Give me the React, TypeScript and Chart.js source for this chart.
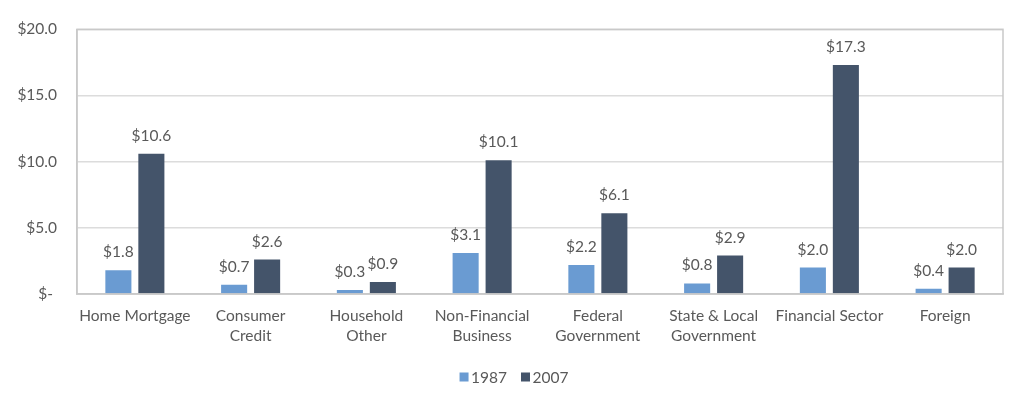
import React, { useEffect, useRef } from "react";
import { Chart, registerables } from "chart.js";

Chart.register(...registerables);

const categories: (string | string[])[] = [
  "Home Mortgage",
  ["Consumer", "Credit"],
  ["Household", "Other"],
  ["Non-Financial", "Business"],
  ["Federal", "Government"],
  ["State & Local", "Government"],
  "Financial Sector",
  "Foreign",
];
const values1987 = [1.8, 0.7, 0.3, 3.1, 2.2, 0.8, 2.0, 0.4];
const values2007 = [10.6, 2.6, 0.9, 10.1, 6.1, 2.9, 17.3, 2.0];
const seriesNames = ["1987", "2007"];
const seriesColors = ["#6a9bd2", "#44546a"];
const yTicks = [0, 5, 10, 15, 20];

const FONT = "Lato, 'Open Sans', sans-serif";
const TEXT = "#595959";
const FS = 15.5;

const framePlugin = {
  id: "frame",
  afterDatasetsDraw(chart: any) {
    const { ctx, chartArea } = chart;
    ctx.save();
    ctx.strokeStyle = "#c9c9c9";
    ctx.lineWidth = 1.5;
    ctx.strokeRect(chartArea.left, chartArea.top, chartArea.right - chartArea.left, chartArea.bottom - chartArea.top);
    ctx.restore();
  },
  afterDraw(chart: any) {
    const { ctx } = chart;
    ctx.save();
    ctx.font = `${FS}px ${FONT}`;
    ctx.fillStyle = TEXT;
    ctx.textAlign = "center";
    ctx.textBaseline = "middle";
    chart.data.datasets.forEach((ds: any, di: number) => {
      const meta = chart.getDatasetMeta(di);
      meta.data.forEach((bar: any, i: number) => {
        const v = ds.data[i] as number;
        ctx.fillText("$" + v.toFixed(1), bar.x, bar.y - 18);
      });
    });
    // zero tick label, accounting style
    ctx.textAlign = "right";
    ctx.fillText("$-", chart.chartArea.left - 24, chart.scales.y.getPixelForValue(0));
    // legend
    const box = 9;
    const gap = 2.5;
    const itemGap = 14;
    const widths = chart.data.datasets.map((ds: any) => box + gap + ctx.measureText(ds.label).width);
    const total = widths.reduce((a: number, b: number) => a + b, 0) + itemGap * (widths.length - 1);
    let x = chart.width / 2 - total / 2 + 2;
    const y = 377;
    ctx.textAlign = "left";
    chart.data.datasets.forEach((ds: any, di: number) => {
      ctx.fillStyle = ds.backgroundColor;
      ctx.fillRect(x, y - box / 2, box, box);
      ctx.fillStyle = TEXT;
      ctx.fillText(ds.label, x + box + gap, y + 0.5);
      x += widths[di] + itemGap;
    });
    ctx.restore();
  },
};

export default function App() {
  const ref = useRef<HTMLCanvasElement | null>(null);
  useEffect(() => {
    document.body.style.margin = "0";
    const chart = new Chart(ref.current!, {
      type: "bar",
      data: {
        labels: categories,
        datasets: [
          { label: seriesNames[0], data: values1987, backgroundColor: seriesColors[0], categoryPercentage: 0.57, barPercentage: 0.79 },
          { label: seriesNames[1], data: values2007, backgroundColor: seriesColors[1], categoryPercentage: 0.57, barPercentage: 0.79 },
        ],
      },
      options: {
        animation: false,
        responsive: false,
        maintainAspectRatio: false,
        layout: { padding: { top: 29, right: 21, bottom: 35, left: 0 } },
        plugins: {
          tooltip: { enabled: false },
          legend: { display: false },
        },
        scales: {
          x: {
            grid: { display: false, drawTicks: false },
            border: { display: true, color: "#c9c9c9", width: 1.5 },
            ticks: { font: { family: FONT, size: FS, lineHeight: 1.3 }, color: TEXT, padding: 12, maxRotation: 0, autoSkip: false },
            afterFit(scale: any) { scale.height = 66; },
          },
          y: {
            min: 0,
            max: 20,
            afterBuildTicks(scale: any) { scale.ticks = yTicks.map((v) => ({ value: v })); },
            grid: { color: "#dcdcdc", lineWidth: 1.5, drawTicks: false },
            border: { display: true, color: "#c9c9c9", width: 1.5 },
            ticks: {
              font: { family: FONT, size: FS },
              color: TEXT,
              padding: 20,
              callback: (v: any) => (Number(v) === 0 ? "" : "$" + Number(v).toFixed(1)),
            },
            afterFit(scale: any) { scale.width = 77; },
          },
        },
      },
      plugins: [framePlugin],
    });
    return () => chart.destroy();
  }, []);
  return (
    <div style={{ width: 1024, height: 395 }}>
      <canvas ref={ref} width={1024} height={395} />
    </div>
  );
}
